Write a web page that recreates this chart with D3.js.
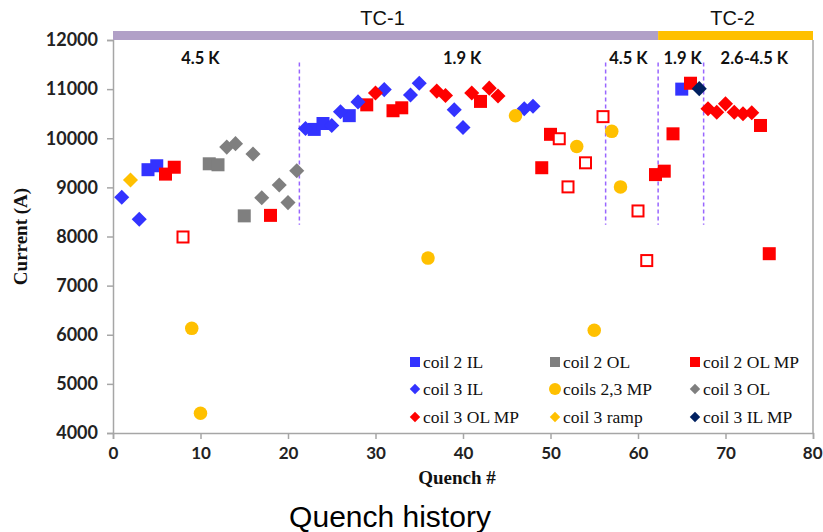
<!DOCTYPE html>
<html>
<head>
<meta charset="utf-8">
<script src="https://cdn.jsdelivr.net/npm/d3@7/dist/d3.min.js"></script>
<style>
  body { margin: 0; background: #fff; }
  svg { display: block; font-family: "Liberation Sans", Arial, sans-serif; }
</style>
</head>
<body>
<div id="chart"></div>
<script>
// quench #, current (A)
const coil2IL = [[4, 9360], [5, 9440], [23, 10180], [24, 10300], [27, 10460], [65, 11000]];
const coil3IL = [[1, 8800], [3, 8350], [22, 10200], [25, 10260], [26, 10540], [28, 10740], [31, 10990],
  [34, 10880], [35, 11120], [39, 10580], [40, 10220], [47, 10600], [48, 10650]];
const coil2OL = [[11, 9480], [12, 9460], [15, 8420]];
const coil3OL = [[13, 9820], [14, 9890], [16, 9680], [17, 8790], [19, 9050], [20, 8690], [21, 9340]];
const coil2OLMP = [[6, 9270], [7, 9410], [18, 8430], [29, 10680], [32, 10560], [33, 10620], [42, 10750],
  [49, 9400], [50, 10080], [62, 9260], [63, 9330], [64, 10090], [66, 11120], [74, 10260], [75, 7650]];
const openSquares = [[8, 7990], [51, 9990], [52, 9010], [54, 9500], [56, 10440], [60, 8520], [61, 7510]];
const coils23MP = [[9, 6130], [10, 4400], [36, 7560], [46, 10460], [53, 9830], [55, 6090], [57, 10140], [58, 9010]];
const coil3OLMP = [[30, 10920], [37, 10960], [38, 10870], [41, 10920], [43, 11020], [44, 10860],
  [68, 10600], [69, 10530], [70, 10700], [71, 10530], [72, 10500], [73, 10520]];
const coil3Ramp = [[2, 9150]];
const coil3ILMP = [[67, 11010]];

const xTicks = [0, 10, 20, 30, 40, 50, 60, 70, 80];
const yTicks = [4000, 5000, 6000, 7000, 8000, 9000, 10000, 11000, 12000];

const phaseBreaks = [21.3, 56.3, 62.3, 67.5];
const phaseLabels = ['4.5 K', '1.9 K', '4.5 K', '1.9 K', '2.6-4.5 K'];
const phaseLabelX = [10, 39.9, 58.9, 65.1, 73.3];

const tcNames = ['TC-1', 'TC-2'];
const tcStart = [0, 62.3];
const tcEnd = [62.3, 80];

const W = 823, H = 532;
const margin = { top: 40, right: 10, bottom: 99, left: 113 };

const svg = d3.select('#chart').append('svg').attr('width', W).attr('height', H);

const x = d3.scaleLinear().domain([0, 80]).range([margin.left, W - margin.right]);
const y = d3.scaleLinear().domain([4000, 12000]).range([H - margin.bottom, margin.top]);

const BLUE = '#3333ff', GRAY = '#7f7f7f', RED = '#ff0000', ORANGE = '#ffc000', NAVY = '#002060';

const series = [
  { name: 'coil 2 IL', data: coil2IL, shape: 'square', color: BLUE },
  { name: 'coil 2 OL', data: coil2OL, shape: 'square', color: GRAY },
  { name: 'coil 2 OL MP', data: coil2OLMP, shape: 'square', color: RED },
  { name: 'coil 3 IL', data: coil3IL, shape: 'diamond', color: BLUE },
  { name: 'coils 2,3 MP', data: coils23MP, shape: 'circle', color: ORANGE },
  { name: 'coil 3 OL', data: coil3OL, shape: 'diamond', color: GRAY },
  { name: 'coil 3 OL MP', data: coil3OLMP, shape: 'diamond', color: RED },
  { name: 'coil 3 ramp', data: coil3Ramp, shape: 'diamond', color: ORANGE },
  { name: 'coil 3 IL MP', data: coil3ILMP, shape: 'diamond', color: NAVY },
];

// axes
const axisColor = '#a6a6a6';
const gy = svg.append('g').attr('transform', `translate(${margin.left},0)`)
  .call(d3.axisLeft(y).tickValues(yTicks).tickSize(6).tickPadding(9).tickFormat(d3.format('d')));
const gx = svg.append('g').attr('transform', `translate(0,${H - margin.bottom})`)
  .call(d3.axisBottom(x).tickValues(xTicks).tickSize(6).tickPadding(8));
[gx, gy].forEach(g => {
  g.select('.domain').attr('stroke', axisColor).attr('stroke-width', 1.5);
  g.selectAll('.tick line').attr('stroke', axisColor).attr('stroke-width', 1.5);
  g.selectAll('.tick text').attr('fill', '#222').attr('font-family', 'Lato, sans-serif')
    .attr('font-weight', 'bold').attr('font-size', 18);
});
// keep the last x label inside the frame
gx.selectAll('.tick text').attr('font-size', 17)
  .filter(d => d === 80).attr('text-anchor', 'end').attr('dx', 9);

// right frame line
svg.append('line')
  .attr('x1', x(80)).attr('x2', x(80)).attr('y1', y(12000)).attr('y2', y(4000))
  .attr('stroke', axisColor).attr('stroke-width', 1.5);

// test campaign bar
tcNames.forEach((name, i) => {
  svg.append('rect')
    .attr('x', x(tcStart[i])).attr('y', y(12000) - 9)
    .attr('width', x(tcEnd[i]) - x(tcStart[i])).attr('height', 9)
    .attr('fill', i === 0 ? '#b1a0c7' : ORANGE);
  svg.append('text')
    .attr('x', (x(tcStart[i]) + x(tcEnd[i])) / 2 - 3).attr('y', 25)
    .attr('text-anchor', 'middle').attr('font-size', 20).attr('fill', '#111')
    .text(name);
});

// temperature phase separators
svg.append('g').selectAll('line').data(phaseBreaks).join('line')
  .attr('x1', d => x(d)).attr('x2', d => x(d))
  .attr('y1', y(11540)).attr('y2', y(8240))
  .attr('stroke', '#9966ff').attr('stroke-width', 1.5).attr('stroke-dasharray', '4,3');

svg.append('g').selectAll('text').data(phaseLabels).join('text')
  .attr('x', (d, i) => x(phaseLabelX[i])).attr('y', y(11520))
  .attr('text-anchor', 'middle').attr('font-size', 16.5).attr('font-weight', 'bold')
  .attr('font-family', 'Lato, sans-serif').attr('fill', '#111')
  .text(d => d);

// markers
function drawMarker(g, shape, color, size) {
  if (shape === 'square') {
    g.append('rect').attr('x', -size / 2).attr('y', -size / 2)
      .attr('width', size).attr('height', size).attr('fill', color);
  } else if (shape === 'diamond') {
    const s = size * 0.82;
    g.append('rect').attr('x', -s / 2).attr('y', -s / 2)
      .attr('width', s).attr('height', s).attr('fill', color)
      .attr('transform', 'rotate(45)');
  } else if (shape === 'open') {
    g.append('rect').attr('x', -size / 2 + 1).attr('y', -size / 2 + 1)
      .attr('width', size - 2).attr('height', size - 2)
      .attr('fill', '#fff').attr('stroke', color).attr('stroke-width', 2);
  } else {
    g.append('circle').attr('r', size / 2).attr('fill', color);
  }
}

const plot = svg.append('g');
const allSeries = series.concat([{ name: null, data: openSquares, shape: 'open', color: RED }]);
allSeries.forEach(s => {
  plot.append('g').selectAll('g').data(s.data).join('g')
    .attr('transform', d => `translate(${x(d[0])},${y(d[1])})`)
    .each(function () { drawMarker(d3.select(this), s.shape, s.color, s.shape === 'circle' ? 13.5 : 13); });
});

// legend
const legCols = [415, 555, 695];
const legRows = [362, 389, 417];
series.forEach((s, i) => {
  const lg = svg.append('g')
    .attr('transform', `translate(${legCols[i % 3]},${legRows[Math.floor(i / 3)]})`);
  drawMarker(lg, s.shape, s.color, s.shape === 'circle' ? 12 : s.shape === 'square' ? 10 : 9);
  lg.append('text').attr('x', 8).attr('y', 6)
    .attr('font-family', '"Liberation Serif", "Times New Roman", serif')
    .attr('font-size', 17.5).attr('fill', '#111').text(s.name);
});

// axis titles
svg.append('text')
  .attr('transform', `translate(27,${(y(4000) + y(12000)) / 2}) rotate(-90)`)
  .attr('text-anchor', 'middle').attr('font-family', '"Liberation Serif", serif')
  .attr('font-weight', 'bold').attr('font-size', 19).attr('fill', '#111')
  .text('Current (A)');
svg.append('text')
  .attr('x', 457).attr('y', 484)
  .attr('text-anchor', 'middle').attr('font-family', '"Liberation Serif", serif')
  .attr('font-weight', 'bold').attr('font-size', 19).attr('fill', '#111')
  .text('Quench #');

svg.append('text')
  .attr('x', 390).attr('y', 527)
  .attr('text-anchor', 'middle').attr('font-size', 30).attr('fill', '#000')
  .text('Quench history');
</script>
</body>
</html>
